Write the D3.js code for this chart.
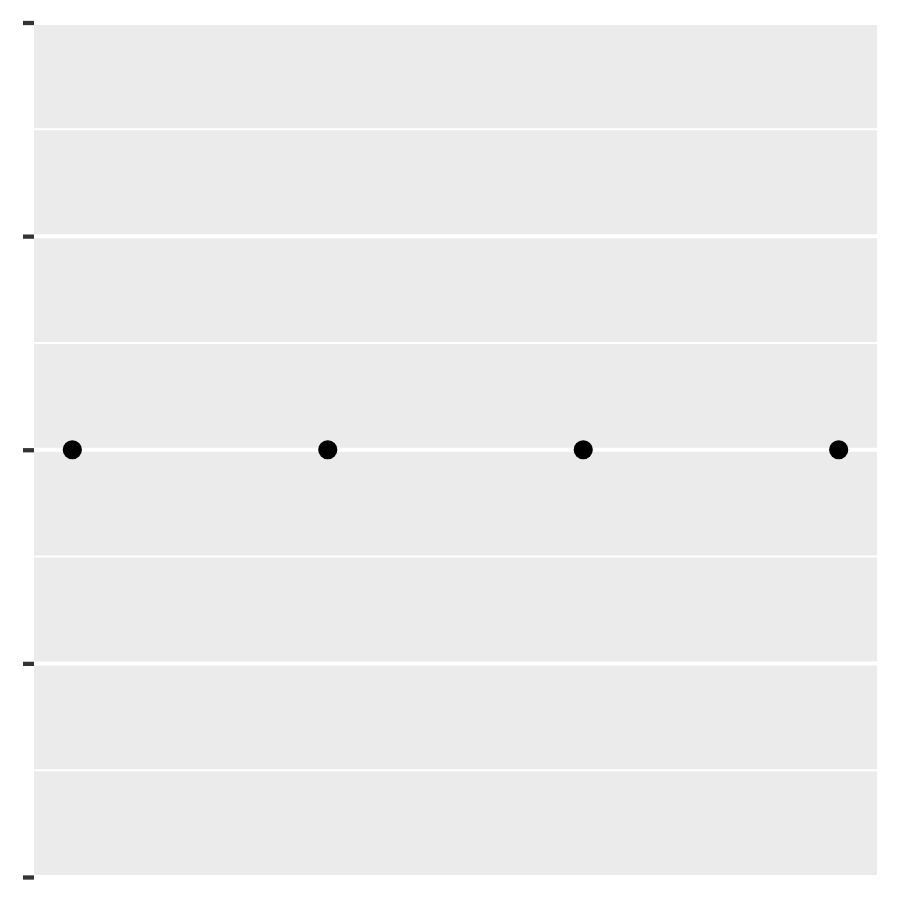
<!DOCTYPE html>
<html>
<head>
<meta charset="utf-8">
<script src="https://cdn.jsdelivr.net/npm/d3@7"></script>
<style>
  html, body { margin: 0; padding: 0; background: #fff; }
  svg { display: block; }
</style>
</head>
<body>
<svg id="chart" width="900" height="900"></svg>
<script>
// Data
const xValues = [1, 2, 3, 4];
const yValues = [0, 0, 0, 0];
const yBreaks = [-0.5, -0.25, 0, 0.25, 0.5];
const yMinorBreaks = [-0.375, -0.125, 0.125, 0.375];
const yTickLabels = ["", "", "", "", ""];

const svg = d3.select("#chart");
const panel = { left: 34, right: 877, top: 25, bottom: 875 };

// x: continuous with 5% expansion
const xMin = d3.min(xValues), xMax = d3.max(xValues);
const xPad = (xMax - xMin) * 0.05;
const x = d3.scaleLinear().domain([xMin - xPad, xMax + xPad]).range([panel.left, panel.right]);

// y: zero-width range expanded to [-0.5, 0.5]
const y = d3.scaleLinear().domain([-0.5, 0.5]).range([877, 22.5]);

svg.append("rect")
  .attr("x", panel.left).attr("y", panel.top)
  .attr("width", panel.right - panel.left)
  .attr("height", panel.bottom - panel.top)
  .attr("fill", "#EBEBEB");

// minor grid
svg.append("g").selectAll("line").data(yMinorBreaks).join("line")
  .attr("x1", panel.left).attr("x2", panel.right)
  .attr("y1", d => y(d)).attr("y2", d => y(d))
  .attr("stroke", "#fff").attr("stroke-width", 2);

// major grid (only inside panel)
svg.append("g").selectAll("line")
  .data(yBreaks.filter(d => y(d) > panel.top && y(d) < panel.bottom)).join("line")
  .attr("x1", panel.left).attr("x2", panel.right)
  .attr("y1", d => y(d)).attr("y2", d => y(d))
  .attr("stroke", "#fff").attr("stroke-width", 4);

// y axis ticks, no labels
const yAxis = d3.axisLeft(y).tickValues(yBreaks)
  .tickFormat((d, i) => yTickLabels[i]).tickSizeInner(11).tickSizeOuter(0);
const gy = svg.append("g").attr("transform", `translate(${panel.left},0)`).call(yAxis);
gy.select(".domain").remove();
gy.selectAll(".tick line").attr("stroke", "#333333").attr("stroke-width", 4.3);

// points
svg.append("g").selectAll("circle").data(xValues).join("circle")
  .attr("cx", d => x(d))
  .attr("cy", (d, i) => y(yValues[i]))
  .attr("r", 9.6)
  .attr("fill", "#000");
</script>
</body>
</html>
